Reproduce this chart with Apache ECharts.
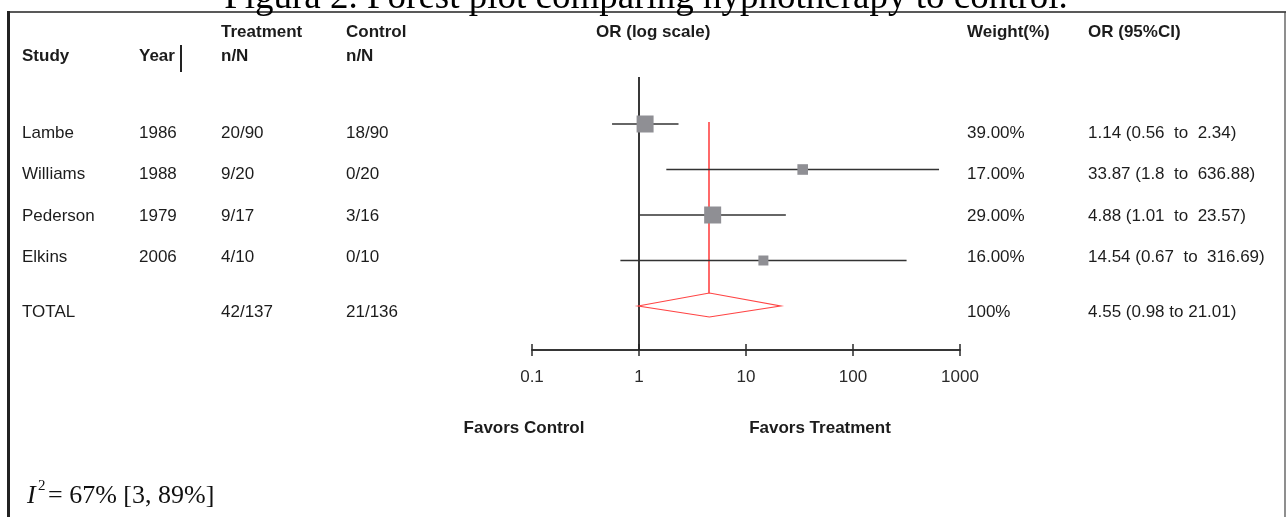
<!DOCTYPE html>
<html>
<head>
<meta charset="utf-8">
<script src="https://cdn.jsdelivr.net/npm/echarts@6/dist/echarts.min.js"></script>
<style>html,body{margin:0;padding:0;background:#fff;}#chart{width:1288px;height:517px;}</style>
</head>
<body>
<div id="chart"></div>
<script>
// ---- data ----
const studies = ['Lambe', 'Williams', 'Pederson', 'Elkins'];
const years = ['1986', '1988', '1979', '2006'];
const treatment = ['20/90', '9/20', '9/17', '4/10'];
const control = ['18/90', '0/20', '3/16', '0/10'];
const weights = [39, 17, 29, 16];
const orValues = [1.14, 33.87, 4.88, 14.54];
const ciLow = [0.56, 1.8, 1.01, 0.67];
const ciHigh = [2.34, 636.88, 23.57, 316.69];
const totalLabel = 'TOTAL';
const totalTreatment = '42/137';
const totalControl = '21/136';
const totalWeight = '100%';
const totalOR = 4.55;
const totalLow = 0.98;
const totalHigh = 21.01;
const axisTicks = [0.1, 1, 10, 100, 1000];
const titleText = 'Figura 2. Forest plot comparing hypnotherapy to control.';
const heterogeneity = '= 67% [3, 89%]';

// ---- layout ----
const col = { study: 22, year: 139, treat: 221, ctrl: 346, or: 596, weight: 967, ci: 1088 };
const textRowY = [133, 174, 216, 257, 312];
const head1Y = 32, head2Y = 56;
const SANS = "'Liberation Sans', Arial, sans-serif";
const SERIF = "'Liberation Serif', 'Times New Roman', serif";
const TXT = '#1c1c1c';

const chart = echarts.init(document.getElementById('chart'), null, { renderer: 'canvas' });

function txt(x, y, s, opts) {
  opts = opts || {};
  return {
    type: 'text', x: x, y: y, silent: true, z: 10,
    style: {
      text: s, fill: opts.color || TXT,
      font: (opts.italic ? 'italic ' : '') + (opts.bold ? 'bold ' : '') + (opts.size || 17) + 'px ' + (opts.family || SANS),
      textAlign: opts.align || 'left', textVerticalAlign: 'middle', verticalAlign: 'middle'
    }
  };
}

const graphics = [];
// title
graphics.push(txt(646, -2, titleText, { size: 37, family: SERIF, align: 'center', color: '#000' }));
// border
graphics.push({ type: 'line', shape: { x1: 7, y1: 12, x2: 1286, y2: 12 }, style: { stroke: '#222', lineWidth: 1.5 } });
graphics.push({ type: 'line', shape: { x1: 8.5, y1: 11, x2: 8.5, y2: 517 }, style: { stroke: '#222', lineWidth: 3 } });
graphics.push({ type: 'line', shape: { x1: 1285, y1: 12, x2: 1285, y2: 517 }, style: { stroke: '#444', lineWidth: 1.2 } });
// headers
graphics.push(txt(col.study, head2Y, 'Study', { bold: true }));
graphics.push(txt(col.year, head2Y, 'Year', { bold: true }));
graphics.push({ type: 'line', shape: { x1: 181, y1: 45, x2: 181, y2: 72 }, style: { stroke: '#222', lineWidth: 2 } });
graphics.push(txt(col.treat, head1Y, 'Treatment', { bold: true }));
graphics.push(txt(col.treat, head2Y, 'n/N', { bold: true }));
graphics.push(txt(col.ctrl, head1Y, 'Control', { bold: true }));
graphics.push(txt(col.ctrl, head2Y, 'n/N', { bold: true }));
graphics.push(txt(col.or, head1Y, 'OR (log scale)', { bold: true }));
graphics.push(txt(col.weight, head1Y, 'Weight(%)', { bold: true }));
graphics.push(txt(col.ci, head1Y, 'OR (95%CI)', { bold: true }));
// rows
studies.forEach(function (s, i) {
  const y = textRowY[i];
  graphics.push(txt(col.study, y, s));
  graphics.push(txt(col.year, y, years[i]));
  graphics.push(txt(col.treat, y, treatment[i]));
  graphics.push(txt(col.ctrl, y, control[i]));
  graphics.push(txt(col.weight, y, weights[i].toFixed(2) + '%'));
  graphics.push(txt(col.ci, y, orValues[i].toFixed(2) + ' (' + ciLow[i] + '  to  ' + ciHigh[i] + ')'));
});
const ty = textRowY[4];
graphics.push(txt(col.study, ty, totalLabel));
graphics.push(txt(col.treat, ty, totalTreatment));
graphics.push(txt(col.ctrl, ty, totalControl));
graphics.push(txt(col.weight, ty, totalWeight));
graphics.push(txt(col.ci, ty, totalOR.toFixed(2) + ' (' + totalLow + ' to ' + totalHigh + ')'));
// favors
graphics.push(txt(524, 428, 'Favors Control', { bold: true, align: 'center' }));
graphics.push(txt(820, 428, 'Favors Treatment', { bold: true, align: 'center' }));
// heterogeneity
graphics.push(txt(27, 496, 'I', { size: 26, family: SERIF, color: '#111', italic: true }));
graphics.push(txt(38, 486, '2', { size: 15, family: SERIF, color: '#111' }));
graphics.push(txt(48, 496, heterogeneity, { size: 26, family: SERIF, color: '#111' }));

const yMin = -1.033, yMax = 4.967;

const studyData = studies.map(function (s, i) { return [i, orValues[i], ciLow[i], ciHigh[i], weights[i]]; });

const baseAxis = {
  type: 'log', logBase: 10, min: axisTicks[0], max: axisTicks[axisTicks.length - 1],
  position: 'bottom', splitLine: { show: false }, minorTick: { show: false },
  axisLine: { show: true, onZero: false, lineStyle: { color: '#2a2a2a', width: 1.5 } }
};

chart.setOption({
  animation: false,
  backgroundColor: '#fff',
  grid: { left: 532, right: 328, top: 77, bottom: 167, containLabel: false },
  xAxis: [
    Object.assign({}, baseAxis, {
      axisTick: { show: true, length: 6, lineStyle: { color: '#2a2a2a', width: 1.5 } },
      axisLabel: { show: true, margin: 19, color: '#2a2a2a', fontSize: 17, fontFamily: SANS,
        formatter: function (v) { return String(+v.toPrecision(6)); } }
    }),
    Object.assign({}, baseAxis, {
      axisTick: { show: true, inside: true, length: 6, lineStyle: { color: '#2a2a2a', width: 1.5 } },
      axisLabel: { show: false }
    })
  ],
  yAxis: { type: 'value', min: yMin, max: yMax, inverse: true, show: false },
  graphic: graphics,
  series: [
    {
      type: 'custom', clip: false, z: 3,
      data: [[1, 0]], encode: { x: 0, y: 1 },
      renderItem: function (params, api) {
        const a = api.coord([1, yMin]), b = api.coord([1, yMax]);
        return { type: 'line', shape: { x1: a[0], y1: a[1], x2: b[0], y2: b[1] }, style: { stroke: '#222', lineWidth: 1.8 } };
      }
    },
    {
      type: 'custom', clip: false, z: 4,
      data: [[4, totalOR, totalLow, totalHigh]], encode: { x: 1, y: 0 },
      renderItem: function (params, api) {
        const r = api.value(0);
        const c = api.coord([api.value(1), r]);
        const l = api.coord([api.value(2), r]);
        const h = api.coord([api.value(3), r]);
        const top = api.coord([api.value(1), 0]);
        const red = '#ff4444';
        const cx = Math.round(c[0]);
        return {
          type: 'group', children: [
            { type: 'line', shape: { x1: cx, y1: top[1] - 2, x2: cx, y2: c[1] - 13 }, style: { stroke: red, lineWidth: 1.6 } },
            { type: 'polygon', shape: { points: [[l[0], c[1]], [c[0], c[1] - 13], [h[0], c[1]], [c[0], c[1] + 11]] }, style: { stroke: red, fill: 'rgba(255,255,255,0)', lineWidth: 1.2 } }
          ]
        };
      }
    },
    {
      type: 'custom', clip: false, z: 5,
      data: studyData, encode: { x: 1, y: 0 },
      renderItem: function (params, api) {
        const i = api.value(0);
        const p = api.coord([api.value(1), i]);
        const a = api.coord([api.value(2), i]);
        const b = api.coord([api.value(3), i]);
        const w = api.value(4);
        const s = Math.min(17, 10 + (w - 16) * 0.6);
        return {
          type: 'group', children: [
            { type: 'line', shape: { x1: a[0], y1: a[1], x2: b[0], y2: b[1] }, style: { stroke: '#333', lineWidth: 1.6 } },
            { type: 'rect', shape: { x: p[0] - s / 2, y: p[1] - s / 2, width: s, height: s }, style: { fill: '#8f8f94' } }
          ]
        };
      }
    }
  ]
});
</script>
</body>
</html>
